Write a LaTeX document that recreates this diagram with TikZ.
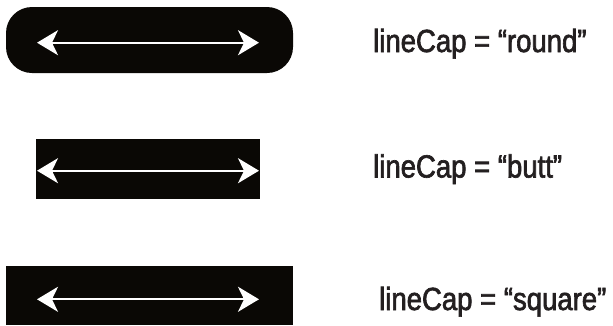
\documentclass[tikz,border=0pt]{standalone}
\usepackage{fontspec}
\setmainfont{Liberation Sans}[FakeStretch=0.86,FakeBold=2]
\usetikzlibrary{arrows.meta}
\definecolor{barblack}{RGB}{10,8,5}
\definecolor{txt}{RGB}{35,31,32}
\tikzset{
  bar/.style={barblack},
  dblarrow/.style={white, line width=2pt, {Stealth[length=21pt,width=25pt,inset=6pt]}-{Stealth[length=21pt,width=25pt,inset=6pt]}},
  lbl/.style={anchor=base west, inner sep=0pt, text=txt, font=\fontsize{32}{36}\selectfont}
}
\begin{document}
\begin{tikzpicture}[x=1pt,y=-1pt]
\useasboundingbox (0,0) rectangle (613,325);
% round
\fill[bar, rounded corners=26pt] (6,7) rectangle (293,73);
\coordinate (r1) at (37,42.7);
\coordinate (r2) at (259,42.7);
\draw[dblarrow] (r1) -- (r2);
\node[lbl] (lr) at (373,52) {lineCap = “round”};
% butt
\coordinate (b1) at (36,169);
\coordinate (b2) at (260,169);
\draw[bar, line width=60pt, line cap=butt] (b1) -- (b2);
\coordinate (ba1) at (37,170.7);
\coordinate (ba2) at (259,170.7);
\draw[dblarrow] (ba1) -- (ba2);
\node[lbl] (lb) at (373,177.5) {lineCap = “butt”};
% square
\coordinate (s1) at (35,295.5);
\coordinate (s2) at (263,295.5);
\draw[bar, line width=59pt, line cap=rect] (s1) -- (s2);
\coordinate (sa1) at (37,299.3);
\coordinate (sa2) at (259,299.3);
\draw[dblarrow] (sa1) -- (sa2);
\node[lbl] (ls) at (379,310) {lineCap = “square”};
\end{tikzpicture}
\end{document}
